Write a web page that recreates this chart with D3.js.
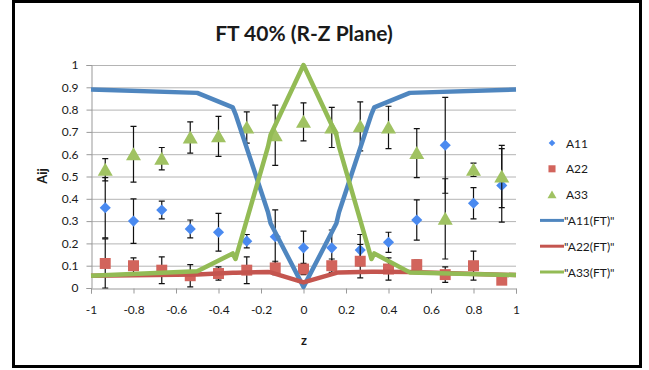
<!DOCTYPE html>
<html>
<head>
<meta charset="utf-8">
<script src="https://cdn.jsdelivr.net/npm/d3@7"></script>
<style>
  body { margin: 0; background: #fff; }
  text { font-family: Lato, "Open Sans", sans-serif; fill: #1a1a1a; }
</style>
</head>
<body>
<div id="vis"></div>
<script>
// Frame size and plot area
const FRAME_WIDTH = 649;
const FRAME_HEIGHT = 370;
const PLOT = {left: 91, right: 516, top: 65, bottom: 288};

// data
const zPts = [-0.933, -0.8, -0.667, -0.533, -0.4, -0.267, -0.133, 0, 0.133, 0.267, 0.4, 0.533, 0.667, 0.8, 0.933];
const a11 = [0.36, 0.30, 0.35, 0.265, 0.25, 0.21, 0.23, 0.18, 0.18, 0.17, 0.205, 0.305, 0.64, 0.38, 0.46];
const a11Err = [0.135, 0.10, 0.04, 0.04, 0.085, 0.03, 0.12, 0.075, 0.08, 0.07, 0.045, 0.09, 0.215, 0.07, 0.165];
const a22 = [0.11, 0.10, 0.08, 0.055, 0.065, 0.08, 0.09, 0.085, 0.10, 0.12, 0.085, 0.105, 0.06, 0.10, 0.035];
const a22Err = [0.11, 0.035, 0.06, 0.05, 0.03, 0.06, 0.03, 0.025, 0.03, 0.075, 0.05, 0.02, 0.035, 0.065, 0.01];
const a33 = [0.53, 0.60, 0.58, 0.675, 0.68, 0.72, 0.685, 0.745, 0.72, 0.725, 0.72, 0.605, 0.31, 0.53, 0.50];
const a33Err = [0.05, 0.125, 0.05, 0.07, 0.09, 0.07, 0.135, 0.085, 0.09, 0.11, 0.095, 0.11, 0.18, 0.03, 0.14];

// fitted curves (FT)
const zFit = [-1, -0.5, -0.333, -0.32, -0.167, -0.155, 0, 0.155, 0.167, 0.32, 0.333, 0.5, 1];
const a11Fit = [0.89, 0.875, 0.81, 0.78, 0.34, 0.29, 0.005, 0.29, 0.34, 0.78, 0.81, 0.875, 0.89];
const a22Fit = [0.055, 0.06, 0.068, 0.068, 0.072, 0.07, 0.025, 0.068, 0.07, 0.073, 0.073, 0.072, 0.058];
const a33Fit = [0.055, 0.075, 0.155, 0.13, 0.634, 0.686, 1.0, 0.686, 0.634, 0.13, 0.155, 0.07, 0.058];

const xTicks = [-1, -0.8, -0.6, -0.4, -0.2, 0, 0.2, 0.4, 0.6, 0.8, 1];
const yTicks = [0, 0.1, 0.2, 0.3, 0.4, 0.5, 0.6, 0.7, 0.8, 0.9, 1];

const COLORS = {a11: "#4a8af0", a22: "#d2645c", a33: "#a0c262",
                a11Fit: "#4f86bf", a22Fit: "#c4554f", a33Fit: "#93bb55"};

const FRAME = d3.select("#vis")
                .append("svg")
                  .attr("width", FRAME_WIDTH)
                  .attr("height", FRAME_HEIGHT);

// outer border
FRAME.append("rect")
      .attr("x", 13.5).attr("y", 1.5)
      .attr("width", 627).attr("height", 365)
      .attr("fill", "#fff")
      .attr("stroke", "#000")
      .attr("stroke-width", 3);

const X_SCALE = d3.scaleLinear().domain([-1, 1]).range([PLOT.left, PLOT.right]);
const Y_SCALE = d3.scaleLinear().domain([0, 1]).range([PLOT.bottom, PLOT.top]);

// gridlines
FRAME.append("g")
      .selectAll("line")
      .data(yTicks.slice(1))
      .enter()
      .append("line")
        .attr("x1", PLOT.left).attr("x2", PLOT.right)
        .attr("y1", d => Y_SCALE(d) + 0.5).attr("y2", d => Y_SCALE(d) + 0.5)
        .attr("stroke", "#b4b4b4");

// axes
const xAxis = FRAME.append("g")
      .attr("transform", "translate(0," + (PLOT.bottom + 0.5) + ")")
      .call(d3.axisBottom(X_SCALE).tickValues(xTicks).tickSize(5).tickPadding(12)
              .tickFormat(d => String(d)));
const yAxis = FRAME.append("g")
      .attr("transform", "translate(" + (PLOT.left + 0.5) + ",0)")
      .call(d3.axisLeft(Y_SCALE).tickValues(yTicks).tickSize(5).tickPadding(8)
              .tickFormat(d => String(d)));
[xAxis, yAxis].forEach(ax => {
  ax.select(".domain").attr("stroke", "#999");
  ax.selectAll(".tick line").attr("stroke", "#999");
  ax.selectAll(".tick text").attr("font-size", 12).attr("font-family", "Lato, sans-serif")
    .attr("fill", "#1a1a1a");
});

// error bars + markers for each series
const SYM_TRI = "M0,-7L7.5,6L-7.5,6Z";
function drawSeries(vals, errs, color, kind) {
  const g = FRAME.append("g");
  const pts = zPts.map((z, i) => ({z: z, v: vals[i], e: errs[i]}));
  g.selectAll(".eb").data(pts).enter().append("path")
    .attr("d", d => {
      const x = X_SCALE(d.z), hi = Y_SCALE(d.v + d.e), lo = Y_SCALE(Math.max(0, d.v - d.e));
      return "M" + x + "," + hi + "V" + lo + "M" + (x - 3) + "," + hi + "H" + (x + 3) +
             "M" + (x - 3) + "," + lo + "H" + (x + 3);
    })
    .attr("stroke", "#111").attr("stroke-width", 1.2).attr("fill", "none");
  g.selectAll(".mk").data(pts).enter().append("path")
    .attr("transform", d => "translate(" + X_SCALE(d.z) + "," + Y_SCALE(d.v) + ")" +
                             (kind == "diamond" ? " rotate(45)" : ""))
    .attr("d", kind == "tri" ? SYM_TRI : d3.symbol(d3.symbolSquare, kind == "diamond" ? 62 : 120)())
    .attr("fill", color);
}
drawSeries(a11, a11Err, COLORS.a11, "diamond");
drawSeries(a22, a22Err, COLORS.a22, "square");
drawSeries(a33, a33Err, COLORS.a33, "tri");

// fitted lines
const LINE = d3.line().x(d => X_SCALE(d[0])).y(d => Y_SCALE(d[1]));
[[a11Fit, COLORS.a11Fit], [a22Fit, COLORS.a22Fit], [a33Fit, COLORS.a33Fit]].forEach(s => {
  FRAME.append("path")
        .datum(zFit.map((z, i) => [z, s[0][i]]))
        .attr("d", LINE)
        .attr("fill", "none")
        .attr("stroke", s[1])
        .attr("stroke-width", 4.5)
        .attr("stroke-linejoin", "round");
});

// title and axis labels
FRAME.append("text")
      .attr("x", 304).attr("y", 41)
      .attr("text-anchor", "middle")
      .attr("font-size", 21).attr("font-weight", "bold")
      .text("FT 40% (R-Z Plane)");
FRAME.append("text")
      .attr("x", 304).attr("y", 345)
      .attr("text-anchor", "middle")
      .attr("font-size", 13).attr("font-weight", "bold")
      .text("z");
FRAME.append("text")
      .attr("transform", "translate(47,176) rotate(-90)")
      .attr("text-anchor", "middle")
      .attr("font-size", 13).attr("font-weight", "bold")
      .text("Aij");

// legend
const LEGEND = [
  {name: "A11", type: "diamond", color: COLORS.a11},
  {name: "A22", type: "square", color: COLORS.a22},
  {name: "A33", type: "tri", color: COLORS.a33},
  {name: "\"A11(FT)\"", type: "line", color: COLORS.a11Fit},
  {name: "\"A22(FT)\"", type: "line", color: COLORS.a22Fit},
  {name: "\"A33(FT)\"", type: "line", color: COLORS.a33Fit}
];
const leg = FRAME.append("g");
LEGEND.forEach((d, i) => {
  const y = 143 + i * 25.8;
  if (d.type == "line") {
    leg.append("line")
       .attr("x1", 540).attr("x2", 564).attr("y1", y).attr("y2", y)
       .attr("stroke", d.color).attr("stroke-width", 3);
  } else {
    leg.append("path")
       .attr("transform", "translate(552," + y + ")" + (d.type == "diamond" ? " rotate(45)" : "") +
                          (d.type == "tri" ? " scale(0.6)" : ""))
       .attr("d", d.type == "tri" ? SYM_TRI : d3.symbol(d3.symbolSquare, d.type == "diamond" ? 22 : 50)())
       .attr("fill", d.color);
  }
  leg.append("text")
     .attr("x", d.type == "line" ? 564 : 566).attr("y", y + 4.5)
     .attr("font-size", 12)
     .text(d.name);
});
</script>
</body>
</html>
